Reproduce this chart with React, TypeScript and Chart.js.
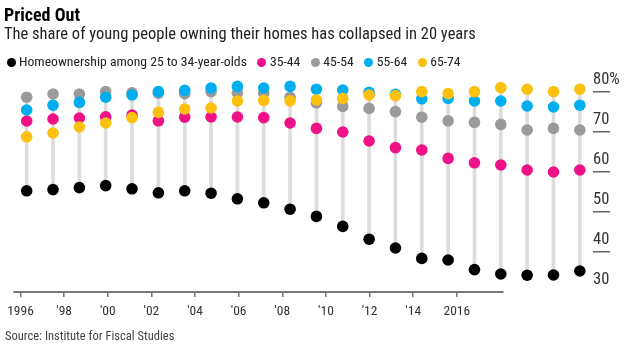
import React, { useEffect, useRef } from "react";
import { Chart, registerables } from "chart.js";

Chart.register(...registerables);

// ---- data ----
const YEARS = [
  "1996", "1997", "1998", "1999", "2000", "2001", "2002", "2003", "2004", "2005", "2006",
  "2007", "2008", "2009", "2010", "2011", "2012", "2013", "2014", "2015", "2016", "2017",
];
const AGE_25_34 = [55.3, 55.6, 56.1, 56.6, 55.8, 54.8, 55.3, 54.7, 53.3, 52.3, 50.7, 48.9, 46.4, 43.2, 41.0, 38.4, 38.0, 35.6, 34.5, 34.2, 34.25, 35.25];
const AGE_35_44 = [72.75, 73.25, 73.5, 73.8, 74.25, 72.8, 73.7, 73.75, 73.75, 73.6, 72.25, 70.9, 70.0, 67.75, 66.1, 65.5, 63.4, 62.3, 61.75, 60.5, 60.0, 60.5];
const AGE_45_54 = [78.7, 79.5, 79.5, 80.1, 79.8, 79.7, 79.6, 80.1, 79.7, 79.7, 78.7, 77.3, 76.4, 75.9, 75.1, 73.7, 72.8, 72.4, 71.9, 70.5, 70.9, 70.5];
const AGE_55_64 = [75.5, 76.7, 77.4, 78.7, 79.25, 80.1, 80.4, 81.0, 81.4, 81.0, 81.4, 80.7, 80.5, 79.9, 79.4, 78.3, 78.4, 77.75, 77.75, 76.5, 76.25, 76.7];
const AGE_65_74 = [68.8, 69.75, 71.25, 72.25, 73.6, 74.9, 75.75, 76.0, 77.75, 77.9, 77.8, 78.0, 78.4, 79.25, 79.1, 80.1, 79.6, 80.1, 81.1, 80.7, 80.1, 80.7];

const SERIES_LABELS = ["Homeownership among 25 to 34-year-olds", "35-44", "45-54", "55-64", "65-74"];
const Y_TICKS = [30, 40, 50, 60, 70, 80];
const X_TICK_YEARS = [1996, 1998, 2000, 2002, 2004, 2006, 2008, 2010, 2012, 2014, 2016];

const TITLE = "Priced Out";
const SUBTITLE = "The share of young people owning their homes has collapsed in 20 years";
const SOURCE = "Source: Institute for Fiscal Studies";

// ---- styles ----
const COLORS = ["#000000", "#ee1188", "#9a9a9a", "#00aeef", "#fcc10e"];
const FONT = "'Roboto Condensed', 'Liberation Sans', sans-serif";
const RANGE_COLOR = "#dddddd";
const AXIS_COLOR = "#777777";
const TEXT_COLOR = "#222222";
const YEAR_AXIS_MIN = 1995.68;
const YEAR_AXIS_MAX = 2022.24;
const YEAR_AXIS_LINE_END = 2018.14;

const axisLinePlugin = {
  id: "axisLine",
  beforeDatasetsDraw(chart: any) {
    const s = chart.scales.xYear;
    const { left, bottom } = chart.chartArea;
    const ctx = chart.ctx;
    ctx.save();
    ctx.strokeStyle = AXIS_COLOR;
    ctx.lineWidth = 2;
    ctx.beginPath();
    ctx.moveTo(left, bottom);
    ctx.lineTo(s.getPixelForValue(YEAR_AXIS_LINE_END), bottom);
    ctx.stroke();
    ctx.restore();
  },
};

function ChartCanvas() {
  const ref = useRef<HTMLCanvasElement | null>(null);
  useEffect(() => {
    document.body.style.margin = "0";
    Chart.defaults.font.family = FONT;
    const series = [AGE_25_34, AGE_35_44, AGE_45_54, AGE_55_64, AGE_65_74];
    const ranges = YEARS.map((_, i) => {
      const vals = series.map((s) => s[i]);
      return [Math.min(...vals), Math.max(...vals)];
    });
    const drawOrder = [5, 4, 3, 2, 1];
    const datasets: any[] = series.map((s, k) => ({
      type: "line",
      label: SERIES_LABELS[k],
      data: s,
      showLine: false,
      pointRadius: 5.8,
      pointHoverRadius: 5.8,
      pointBorderWidth: 0,
      pointBackgroundColor: COLORS[k],
      borderColor: COLORS[k],
      backgroundColor: COLORS[k],
      order: drawOrder[k],
      clip: false,
      xAxisID: "x",
      yAxisID: "y",
    }));
    datasets.push({
      type: "bar",
      label: "range",
      data: ranges,
      backgroundColor: RANGE_COLOR,
      borderWidth: 0,
      barThickness: 3,
      order: 10,
      xAxisID: "x",
      yAxisID: "y",
    });

    const chart = new Chart(ref.current!, {
      type: "bar",
      data: { labels: YEARS, datasets },
      options: {
        animation: false,
        responsive: false,
        events: [],
        layout: { padding: { top: 84, left: 10, right: 0, bottom: 26 } },
        plugins: {
          legend: { display: false },
          tooltip: { enabled: false },
          title: { display: false },
        },
        scales: {
          x: {
            type: "category",
            offset: true,
            display: false,
          },
          xYear: {
            type: "linear",
            position: "bottom",
            offset: false,
            min: YEAR_AXIS_MIN,
            max: YEAR_AXIS_MAX,
            afterBuildTicks: (scale: any) => {
              scale.ticks = X_TICK_YEARS.map((v) => ({ value: v }));
            },
            afterFit: (scale: any) => {
              scale.height = 35;
            },
            border: { display: false },
            grid: {
              offset: false,
              drawOnChartArea: false,
              drawTicks: true,
              tickLength: 5,
              color: AXIS_COLOR,
              lineWidth: 1.5,
            },
            ticks: {
              autoSkip: false,
              maxRotation: 0,
              padding: 7,
              color: "#333333",
              font: { size: 13.5 },
              callback: (v: any) => {
                const n = Number(v);
                return n === 1996 || n === 2016 ? String(n) : "'" + String(n).slice(2);
              },
            },
          },
          y: {
            type: "linear",
            position: "right",
            min: 30,
            max: 82,
            afterBuildTicks: (scale: any) => {
              scale.ticks = Y_TICKS.map((v) => ({ value: v }));
            },
            afterFit: (scale: any) => {
              scale.width = 41;
            },
            border: { display: false },
            grid: {
              drawOnChartArea: false,
              drawTicks: true,
              tickLength: 17,
              lineWidth: 1.5,
              color: (ctx: any) => (ctx.tick && ctx.tick.value === 30 ? "rgba(0,0,0,0)" : "#666666"),
            },
            ticks: {
              padding: -17,
              labelOffset: -12,
              color: "#333333",
              font: { size: 16.5 },
              callback: (v: any) => (Number(v) === 80 ? "80%" : String(v)),
            },
          },
        },
      } as any,
      plugins: [axisLinePlugin],
    });
    return () => chart.destroy();
  }, []);
  return <canvas ref={ref} width={634} height={353} style={{ position: "absolute", left: 0, top: 0 }} />;
}

export default function App() {
  const legendItems = SERIES_LABELS.map((label, k) => (
    <div key={label} style={{ display: "flex", alignItems: "center", marginRight: 10.5 }}>
      <span
        style={{
          display: "inline-block",
          width: 9,
          height: 9,
          borderRadius: "50%",
          background: COLORS[k],
          marginRight: 3.5,
        }}
      />
      <span>{label}</span>
    </div>
  ));
  return (
    <div style={{ position: "relative", width: 634, height: 353, fontFamily: FONT, color: TEXT_COLOR, overflow: "hidden" }}>
      <ChartCanvas />
      <div style={{ position: "absolute", left: 4, top: 5.8, fontSize: 18, lineHeight: "18px", fontWeight: "bold", color: "#000", whiteSpace: "nowrap" }}>
        {TITLE}
      </div>
      <div style={{ position: "absolute", left: 4, top: 26.1, fontSize: 16.5, lineHeight: "16.5px", whiteSpace: "nowrap" }}>
        {SUBTITLE}
      </div>
      <div style={{ position: "absolute", left: 6.5, top: 55.2, fontSize: 13.7, lineHeight: "13.7px", display: "flex", whiteSpace: "nowrap" }}>
        {legendItems}
      </div>
      <div style={{ position: "absolute", left: 5, top: 330, fontSize: 12.5, lineHeight: "12.5px", color: "#444", whiteSpace: "nowrap" }}>
        {SOURCE}
      </div>
    </div>
  );
}
